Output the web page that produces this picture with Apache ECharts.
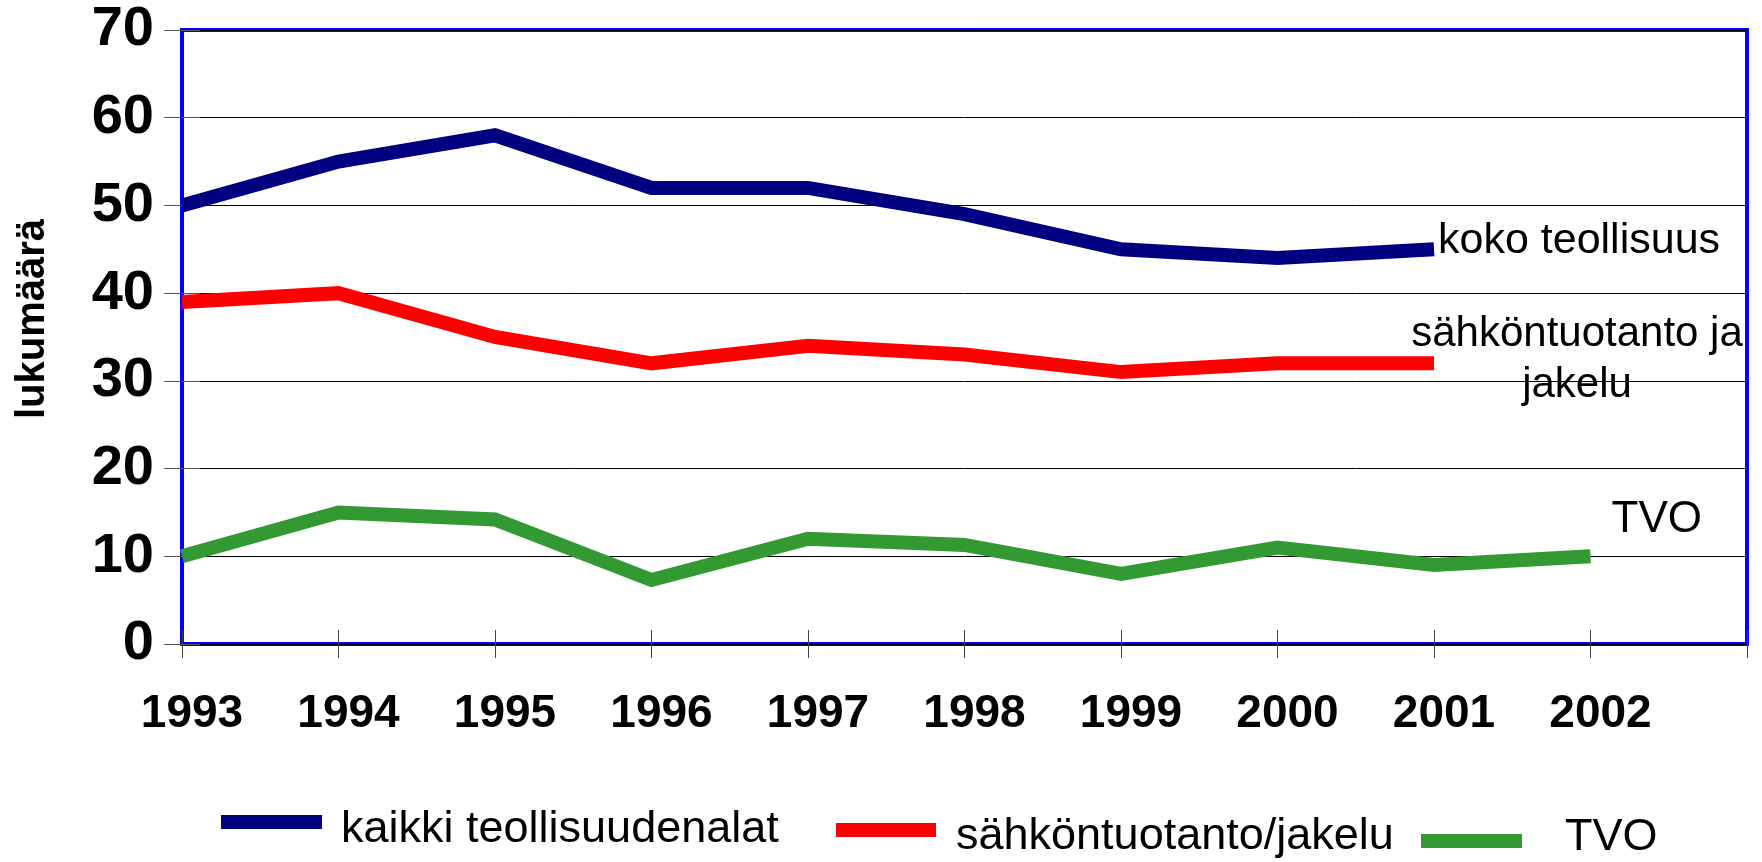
<!DOCTYPE html>
<html>
<head>
<meta charset="utf-8">
<script src="https://cdn.jsdelivr.net/npm/echarts@6/dist/echarts.min.js"></script>
<style>
html,body{margin:0;padding:0;background:#fff;}
#chart{width:1762px;height:862px;}
</style>
</head>
<body>
<div id="chart"></div>
<script>
// ---- data ----
const years = [1993, 1994, 1995, 1996, 1997, 1998, 1999, 2000, 2001, 2002];
const xTickLabels = ['1993','1994','1995','1996','1997','1998','1999','2000','2001','2002',''];
const yTicks = [0, 10, 20, 30, 40, 50, 60, 70];
const seriesNames = ['kaikki teollisuudenalat', 'sähköntuotanto/jakelu', 'TVO'];
const endLabels = ['koko teollisuus', 'sähköntuotanto ja\njakelu', 'TVO'];
const kaikki = [50, 55, 58, 52, 52, 49, 45, 44, 45];
const sahko = [39, 40, 35, 32, 34, 33, 31, 32, 32];
const tvo = [10, 15, 14.2, 7.3, 12, 11.3, 8, 11, 9, 10];
const yAxisName = 'lukumäärä';

const FONT = '"Liberation Sans", Arial, sans-serif';
const pairs = vals => vals.map((v, i) => [years[i], v]);

const chart = echarts.init(document.getElementById('chart'), null, {renderer: 'canvas'});

// legend swatch only (no text)
function legendIcon(name, left, top, width) {
  return {
    data: [name], left: left, top: top, padding: 0, icon: 'rect',
    itemWidth: width, itemHeight: 14, selectedMode: false,
    formatter: () => '', textStyle: {fontSize: 1, lineHeight: 1}
  };
}
// legend text only (no swatch)
function legendText(name, left, top) {
  return {
    data: [name], left: left, top: top, padding: 0, icon: 'rect',
    itemWidth: 0, itemHeight: 0, selectedMode: false,
    itemStyle: {opacity: 0},
    textStyle: {fontFamily: FONT, fontSize: 45, color: '#000'}
  };
}

chart.setOption({
  animation: false,
  backgroundColor: '#fff',
  grid: {left: 182, top: 30, width: 1565, height: 614, show: true,
         borderColor: '#0000ff', borderWidth: 4, backgroundColor: 'transparent'},
  legend: [
    legendIcon(seriesNames[0], 221, 815, 101),
    legendIcon(seriesNames[1], 836, 823, 100),
    legendIcon(seriesNames[2], 1421, 834, 101),
    legendText(seriesNames[0], 336, 807),
    legendText(seriesNames[1], 951, 814),
    legendText(seriesNames[2], 1560, 815)
  ],
  xAxis: [
    {type: 'value', min: 1993, max: 2003, interval: 1, position: 'bottom',
     axisLine: {show: false},
     axisTick: {show: true, length: 14, lineStyle: {color: '#444', width: 1}},
     axisLabel: {fontFamily: FONT, fontSize: 46, fontWeight: 'bold', color: '#000', margin: 47,
                 padding: [0, 0, 0, 20],
                 formatter: v => xTickLabels[Math.round(v - years[0])] || ''},
     splitLine: {show: false}},
    {type: 'value', min: 1993, max: 2003, interval: 1, position: 'bottom',
     axisLine: {show: false},
     axisTick: {show: true, inside: true, length: 14, lineStyle: {color: '#444', width: 1}},
     axisLabel: {show: false}, splitLine: {show: false}}
  ],
  yAxis: [
    {type: 'value', min: yTicks[0], max: yTicks[yTicks.length - 1], interval: 10, position: 'left',
     axisLine: {show: false},
     axisTick: {show: true, length: 18, lineStyle: {color: '#555', width: 1}},
     axisLabel: {fontFamily: FONT, fontSize: 56, fontWeight: 'bold', color: '#000', margin: 28},
     splitLine: {show: true, lineStyle: {color: '#000', width: 1}},
     name: yAxisName, nameLocation: 'middle', nameGap: 129, nameRotate: 90,
     nameTextStyle: {fontFamily: FONT, fontSize: 40, fontWeight: 'bold', color: '#000', padding: [0, 0, 0, 36]}},
    {type: 'value', min: yTicks[0], max: yTicks[yTicks.length - 1], interval: 10, position: 'left',
     axisLine: {show: false},
     axisTick: {show: true, inside: true, length: 18, lineStyle: {color: '#555', width: 1}},
     axisLabel: {show: false}, splitLine: {show: false}}
  ],
  series: [
    {name: seriesNames[0], type: 'line', data: pairs(kaikki), symbol: 'none', color: '#000080',
     lineStyle: {width: 14, color: '#000080', join: 'miter'},
     endLabel: {show: true, formatter: endLabels[0], fontFamily: FONT, fontSize: 43, color: '#000',
                distance: 0, offset: [4, -8]}},
    {name: seriesNames[1], type: 'line', data: pairs(sahko), symbol: 'none', color: '#ff0000',
     lineStyle: {width: 14, color: '#ff0000', join: 'miter'},
     endLabel: {show: true, formatter: endLabels[1], fontFamily: FONT, fontSize: 42, color: '#000',
                lineHeight: 51, align: 'center', distance: 0, offset: [143, -3]}},
    {name: seriesNames[2], type: 'line', data: pairs(tvo), symbol: 'none', color: '#339933',
     lineStyle: {width: 14, color: '#339933', join: 'miter'},
     endLabel: {show: true, formatter: endLabels[2], fontFamily: FONT, fontSize: 44, color: '#000',
                distance: 0, offset: [21, -36]}}
  ]
});
</script>
</body>
</html>
